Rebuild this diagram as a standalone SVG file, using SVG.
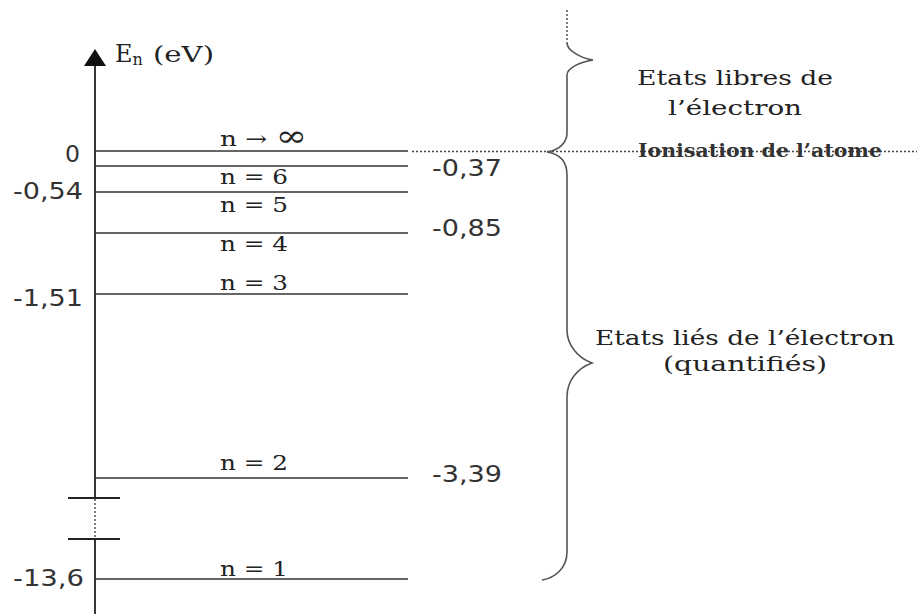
<svg xmlns="http://www.w3.org/2000/svg" width="917" height="614" viewBox="0 0 917 614">
<style>
.lvl{stroke:#333;stroke-width:1.6;fill:none}
.ax{stroke:#222;stroke-width:1.8;fill:none}
.dot{stroke:#444;stroke-width:1.4;stroke-dasharray:2 2;fill:none}
.br{stroke:#555;stroke-width:1.6;fill:none}
.num{font-family:"DejaVu Sans","Verdana",sans-serif;font-size:23px;fill:#333}
.ser{font-family:"DejaVu Serif","Liberation Serif",serif;font-size:21px;fill:#222}
</style>
<rect width="917" height="614" fill="#fff"/>
<g id="axis">
<path class="ax" d="M95,64 V498 M95,539 V614"/>
<path class="dot" d="M95,499 V538"/>
<path class="ax" d="M68,498 H120 M68,539 H120"/>
<polygon points="95,49 84,66 106,66" fill="#111"/>
<text class="ser" x="115" y="62" style="font-size:24px">E<tspan style="font-size:16px" dy="3">n</tspan></text>
<text class="ser" x="153" y="62" style="font-size:22px" textLength="61" lengthAdjust="spacingAndGlyphs">(eV)</text>
</g>
<g id="level-inf">
<line class="lvl" x1="95" y1="151" x2="408" y2="151"/>
<text class="ser" x="220" y="146" textLength="87" lengthAdjust="spacingAndGlyphs">n → <tspan style="font-size:30px">∞</tspan></text>
<text class="num" x="65" y="162" textLength="15" lengthAdjust="spacingAndGlyphs">0</text>
</g>
<g id="level-6">
<line class="lvl" x1="95" y1="166" x2="408" y2="166"/>
<text class="ser" x="220" y="184" textLength="68" lengthAdjust="spacingAndGlyphs">n = 6</text>
<text class="num" x="432" y="176" textLength="70" lengthAdjust="spacingAndGlyphs">-0,37</text>
</g>
<g id="level-5">
<line class="lvl" x1="95" y1="192" x2="408" y2="192"/>
<text class="ser" x="220" y="212" textLength="68" lengthAdjust="spacingAndGlyphs">n = 5</text>
<text class="num" x="13" y="199" textLength="70" lengthAdjust="spacingAndGlyphs">-0,54</text>
</g>
<g id="level-4">
<line class="lvl" x1="95" y1="233" x2="408" y2="233"/>
<text class="ser" x="220" y="251" textLength="68" lengthAdjust="spacingAndGlyphs">n = 4</text>
<text class="num" x="432" y="236" textLength="70" lengthAdjust="spacingAndGlyphs">-0,85</text>
</g>
<g id="level-3">
<line class="lvl" x1="95" y1="294" x2="408" y2="294"/>
<text class="ser" x="220" y="290" textLength="68" lengthAdjust="spacingAndGlyphs">n = 3</text>
<text class="num" x="13" y="306" textLength="70" lengthAdjust="spacingAndGlyphs">-1,51</text>
</g>
<g id="level-2">
<line class="lvl" x1="95" y1="478" x2="408" y2="478"/>
<text class="ser" x="220" y="470" textLength="68" lengthAdjust="spacingAndGlyphs">n = 2</text>
<text class="num" x="432" y="482" textLength="70" lengthAdjust="spacingAndGlyphs">-3,39</text>
</g>
<g id="level-1">
<line class="lvl" x1="95" y1="579" x2="408" y2="579"/>
<text class="ser" x="220" y="576" textLength="68" lengthAdjust="spacingAndGlyphs">n = 1</text>
<text class="num" x="13" y="586" textLength="71" lengthAdjust="spacingAndGlyphs">-13,6</text>
</g>
<g id="ionisation">
<line class="dot" x1="412" y1="151.5" x2="917" y2="151.5"/>
<text class="ser" x="638" y="157" style="font-size:19px;font-weight:bold;fill:#333" textLength="244" lengthAdjust="spacingAndGlyphs">Ionisation de l’atome</text>
</g>
<g id="free-states">
<path class="dot" d="M567,10 V43"/>
<path class="br" d="M567,43 C567,50 580,58 593,60 C580,62 567,68 567,75 V133 C567,142 560,150 547,152"/>
<text class="ser" x="637" y="85" textLength="196" lengthAdjust="spacingAndGlyphs">Etats libres de</text>
<text class="ser" x="668" y="115" textLength="134" lengthAdjust="spacingAndGlyphs">l’électron</text>
</g>
<g id="bound-states">
<path class="br" d="M547,152 C560,154 567,162 567,175 V330 C567,345 578,358 592,363 C578,368 567,380 567,397 V552 C567,568 555,578 542,580"/>
<text class="ser" x="595" y="345" textLength="300" lengthAdjust="spacingAndGlyphs">Etats liés de l’électron</text>
<text class="ser" x="663" y="371" textLength="164" lengthAdjust="spacingAndGlyphs">(quantifiés)</text>
</g>
</svg>
